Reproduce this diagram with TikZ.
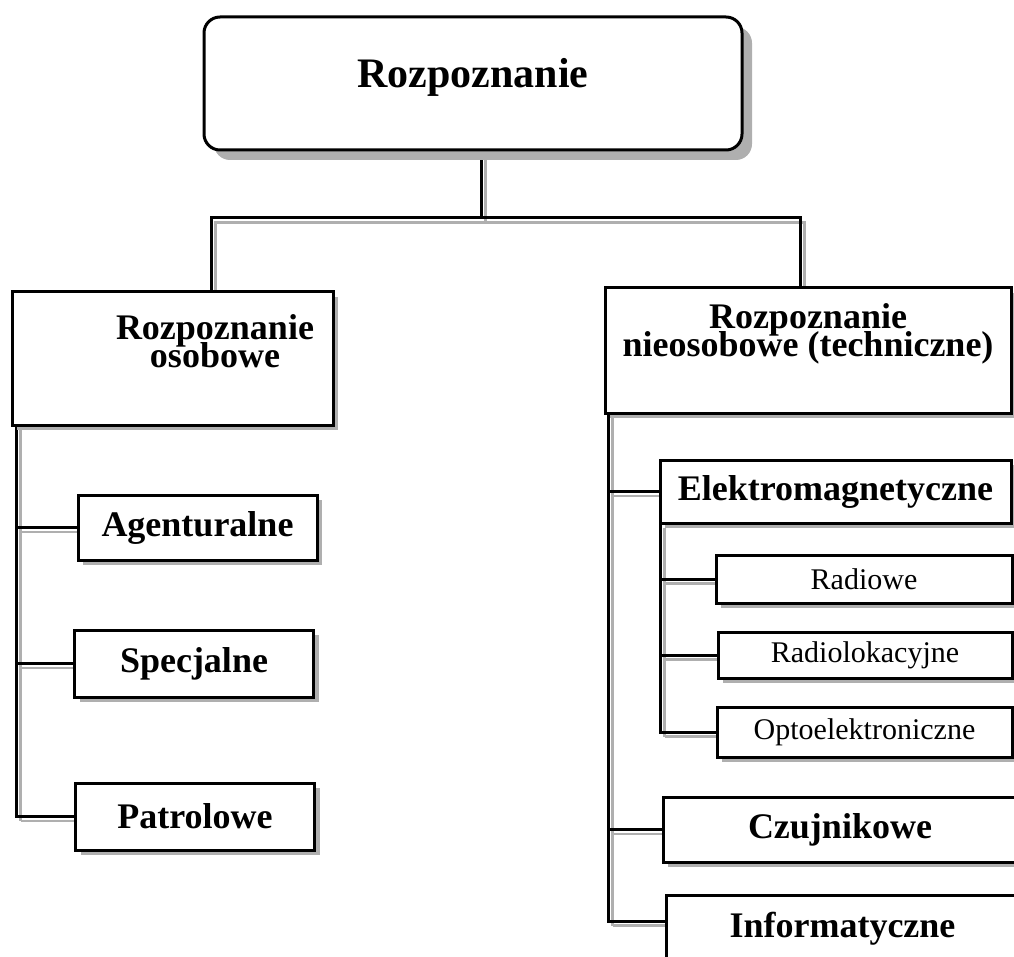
\documentclass[tikz,border=0pt]{standalone}
\usepackage{fontspec}
\setmainfont{Liberation Serif}
\usetikzlibrary{shadows,calc}
\definecolor{shade}{HTML}{AFAFAF}
\pgfdeclarelayer{wires}
\pgfsetlayers{wires,main}
\newcommand\tightlines{\lineskiplimit=-100pt\relax\lineskip=0pt\relax}
\tikzset{
  conn/.style={line width=3pt, black, line cap=rect,
    preaction={draw=shade, line width=2.2pt, transform canvas={xshift=4.5pt,yshift=-4.5pt}}},
  box/.style={draw, line width=3pt, fill=white, inner sep=0pt, outer sep=0pt,
    drop shadow={shadow xshift=5pt, shadow yshift=-5pt, fill=shade, opacity=1}},
  rootbox/.style={draw, line width=3pt, fill=white, inner sep=0pt, outer sep=0pt,
    rounded corners=16pt,
    drop shadow={shadow xshift=10pt, shadow yshift=-10pt, fill=shade, opacity=1}},
  boldtxt/.style={font=\fontsize{36}{28}\selectfont\bfseries\tightlines, align=center},
  titletxt/.style={font=\fontsize{42}{42}\selectfont\bfseries},
  plaintxt/.style={font=\fontsize{30}{30}\selectfont},
}
\begin{document}
\begin{tikzpicture}[x=1pt,y=-1pt]
\useasboundingbox (0,0) rectangle (1014,957);
\clip (0,0) rectangle (1014,957);

% junction points of the bus and the spines
\coordinate (hub)   at (481,218);
\coordinate (busL)  at (211,218);
\coordinate (busR)  at (800,218);
\coordinate (spineL) at (16,0);
\coordinate (spineR) at (608,0);

% boxes (two-line labels are placed by the baseline of their last line)
\node[rootbox, minimum width=538pt, minimum height=133pt] (root) at (473,83.5) {};
\node[titletxt, anchor=base] (rootT) at (473,88) {Rozpoznanie};

\node[box, minimum width=321pt, minimum height=133pt] (pers) at (172.5,358.5) {};
\node[boldtxt, anchor=base] (persT) at (215,367) {Rozpoznanie\\osobowe};

\node[box, minimum width=406pt, minimum height=125pt] (tech) at (808,350.5) {};
\node[boldtxt, anchor=base] (techT) at (808,356) {Rozpoznanie\\nieosobowe (techniczne)};

\node[box, boldtxt, minimum width=239pt, minimum height=65pt] (agent)  at (197.5,527.5) {Agenturalne};
\node[box, boldtxt, minimum width=239pt, minimum height=67pt] (spec)   at (194,663.5) {Specjalne};
\node[box, boldtxt, minimum width=239pt, minimum height=67pt] (patrol) at (195,816.5) {Patrolowe};

\node[box, boldtxt, minimum width=351pt, minimum height=63pt] (elektro) at (835.5,491.5) {Elektromagnetyczne};
\node[box, plaintxt, minimum width=296pt, minimum height=48pt] (radio)  at (864,579)   {Radiowe};
\node[box, plaintxt, minimum width=294pt, minimum height=46pt] (radlok) at (865,655) {Radiolokacyjne};
\node[box, plaintxt, minimum width=295pt, minimum height=50pt] (opto)   at (864.5,732) {Optoelektroniczne};
\node[box, boldtxt, minimum width=354pt, minimum height=65pt] (czuj)   at (840,829.5) {Czujnikowe};
\node[box, boldtxt, minimum width=353pt, minimum height=68pt] (info)   at (842.5,929) {Informatyczne};

% the lowest branch meets its box above the box centre
\coordinate (infoTap)  at (608,921);

% connectors, kept behind the boxes
\begin{pgfonlayer}{wires}
\draw[conn] (root.south -| hub) -- (hub);
\draw[conn] (pers.north -| busL) -- (busL) -- (busR) -- (tech.north -| busR);

\draw[conn] (pers.south -| spineL) -- (patrol.west -| spineL);
\draw[conn] (agent.west -| spineL) -- (agent.west);
\draw[conn] (spec.west -| spineL) -- (spec.west);
\draw[conn] (patrol.west -| spineL) -- (patrol.west);

\draw[conn] (tech.south -| spineR) -- (infoTap);
\draw[conn] (elektro.west -| spineR) -- (elektro.west);
\draw[conn] (czuj.west -| spineR) -- (czuj.west);
\draw[conn] (infoTap) -- (infoTap -| info.west);

\draw[conn] (elektro.south west) -- (elektro.south west |- opto.west);
\draw[conn] (radio.west -| elektro.south west) -- (radio.west);
\draw[conn] (radlok.west -| elektro.south west) -- (radlok.west);
\draw[conn] (opto.west -| elektro.south west) -- (opto.west);
\end{pgfonlayer}
\end{tikzpicture}
\end{document}
